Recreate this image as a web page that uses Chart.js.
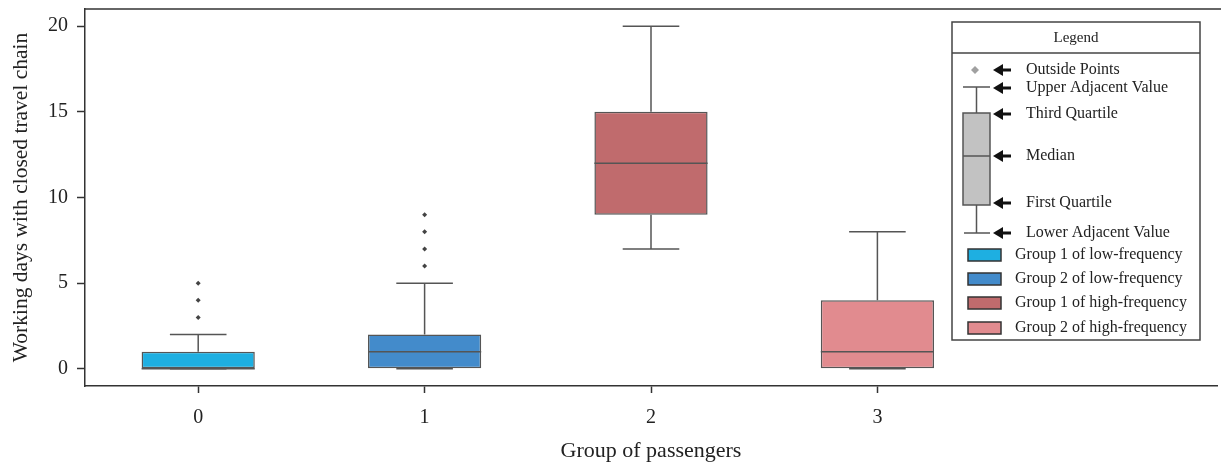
<!DOCTYPE html>
<html>
<head>
<meta charset="utf-8">
<script src="https://cdn.jsdelivr.net/npm/chart.js@4"></script>
<style>
  body { margin: 0; background: #fff; }
  #wrap { width: 1221px; height: 467px; position: relative; }
</style>
</head>
<body>
<div id="wrap"><canvas id="boxChart"></canvas></div>
<script>
// data
const groups = [0, 1, 2, 3];
const groupNames = ['Group 1 of low-frequency', 'Group 2 of low-frequency', 'Group 1 of high-frequency', 'Group 2 of high-frequency'];
const groupColors = ['#1eafe1', '#438bcb', '#c06b6d', '#e18b8f'];
const lowerWhisker = [0, 0, 7, 0];
const q1 = [0, 0, 9, 0];
const median = [0, 1, 12, 1];
const q3 = [1, 2, 15, 4];
const upperWhisker = [2, 5, 20, 8];
const outliers = [[3, 4, 5], [6, 7, 8, 9], [], []];
const yTicks = [0, 5, 10, 15, 20];
const legendItems = ['Outside Points', 'Upper Adjacent Value', 'Third Quartile', 'Median', 'First Quartile', 'Lower Adjacent Value'];

const lineColor = '#555';
const serif = '"Liberation Serif", "DejaVu Serif", serif';
const capWidth = 0.25; // in x units

const boxData = groups.map((g, i) => ({ x: g, y: [q1[i], q3[i]] }));
const outlierData = [];
outliers.forEach((arr, i) => arr.forEach(v => outlierData.push({ x: groups[i], y: v })));

// whiskers + medians drawn from the scales
const boxParts = {
    id: 'boxParts',
    beforeDatasetsDraw(chart) {
        const { ctx, scales: { x, y } } = chart;
        ctx.save();
        ctx.strokeStyle = lineColor;
        ctx.lineWidth = 1.5;
        groups.forEach((g, i) => {
            const cx = x.getPixelForValue(g);
            const l = x.getPixelForValue(g - capWidth / 2);
            const r = x.getPixelForValue(g + capWidth / 2);
            ctx.beginPath();
            ctx.moveTo(cx, y.getPixelForValue(q3[i]));
            ctx.lineTo(cx, y.getPixelForValue(upperWhisker[i]));
            ctx.moveTo(l, y.getPixelForValue(upperWhisker[i]));
            ctx.lineTo(r, y.getPixelForValue(upperWhisker[i]));
            ctx.moveTo(cx, y.getPixelForValue(q1[i]));
            ctx.lineTo(cx, y.getPixelForValue(lowerWhisker[i]));
            ctx.moveTo(l, y.getPixelForValue(lowerWhisker[i]));
            ctx.lineTo(r, y.getPixelForValue(lowerWhisker[i]));
            ctx.stroke();
        });
        ctx.restore();
    },
    afterDatasetsDraw(chart) {
        const { ctx, scales: { x, y } } = chart;
        const bars = chart.getDatasetMeta(0).data;
        ctx.save();
        ctx.strokeStyle = lineColor;
        ctx.lineWidth = 1.5;
        bars.forEach((bar, i) => {
            const my = y.getPixelForValue(median[i]);
            ctx.beginPath();
            ctx.moveTo(bar.x - bar.width / 2, my);
            ctx.lineTo(bar.x + bar.width / 2, my);
            ctx.stroke();
        });
        // top frame line
        const area = chart.chartArea;
        ctx.strokeStyle = '#333';
        ctx.beginPath();
        ctx.moveTo(area.left, area.top);
        ctx.lineTo(chart.width, area.top);
        ctx.stroke();
        ctx.restore();
    }
};

function arrow(ctx, tipX, yy) {
    ctx.beginPath();
    ctx.moveTo(tipX, yy);
    ctx.lineTo(tipX + 10, yy - 6);
    ctx.lineTo(tipX + 10, yy + 6);
    ctx.closePath();
    ctx.fill();
    ctx.fillRect(tipX + 9, yy - 1.5, 9, 3);
}

// the boxed legend on the right
const boxLegend = {
    id: 'boxLegend',
    afterDraw(chart) {
        const ctx = chart.ctx;
        const L = 952, R = 1200, T = 22, B = 340;
        ctx.save();
        ctx.fillStyle = '#fff';
        ctx.fillRect(L, T, R - L, B - T);
        ctx.strokeStyle = '#444';
        ctx.lineWidth = 1.5;
        ctx.strokeRect(L, T, R - L, B - T);
        ctx.beginPath();
        ctx.moveTo(L, 53);
        ctx.lineTo(R, 53);
        ctx.stroke();

        ctx.fillStyle = '#222';
        ctx.font = '15px ' + serif;
        ctx.textAlign = 'center';
        ctx.textBaseline = 'middle';
        ctx.fillText('Legend', (L + R) / 2, 38);

        // schematic box
        ctx.strokeStyle = lineColor;
        ctx.lineWidth = 1.5;
        ctx.fillStyle = '#c2c2c2';
        ctx.fillRect(963, 113, 27, 92);
        ctx.strokeRect(963, 113, 27, 92);
        ctx.beginPath();
        ctx.moveTo(963, 156); ctx.lineTo(990, 156);
        ctx.moveTo(976.5, 113); ctx.lineTo(976.5, 87);
        ctx.moveTo(963, 87); ctx.lineTo(990, 87);
        ctx.moveTo(976.5, 205); ctx.lineTo(976.5, 233);
        ctx.moveTo(964, 233); ctx.lineTo(990, 233);
        ctx.stroke();
        ctx.fillStyle = '#a0a0a0';
        ctx.beginPath();
        ctx.moveTo(975, 66); ctx.lineTo(979, 70); ctx.lineTo(975, 74); ctx.lineTo(971, 70);
        ctx.closePath();
        ctx.fill();

        const rowY = [70, 88, 114, 156, 203, 233];
        ctx.font = '16px ' + serif;
        ctx.textAlign = 'left';
        legendItems.forEach((t, i) => {
            ctx.fillStyle = '#111';
            arrow(ctx, 993, rowY[i]);
            ctx.fillStyle = '#222';
            ctx.fillText(t, 1026, rowY[i]);
        });

        const swY = [255, 279, 303, 328];
        groupNames.forEach((n, i) => {
            ctx.fillStyle = groupColors[i];
            ctx.fillRect(968, swY[i] - 6, 33, 12);
            ctx.strokeStyle = '#333';
            ctx.strokeRect(968, swY[i] - 6, 33, 12);
            ctx.fillStyle = '#222';
            ctx.fillText(n, 1015, swY[i]);
        });
        ctx.restore();
    }
};

new Chart(document.getElementById('boxChart'), {
    type: 'bar',
    data: {
        datasets: [{
            type: 'bar',
            label: 'boxes',
            data: boxData,
            backgroundColor: groupColors,
            borderColor: lineColor,
            borderWidth: 1.5,
            borderSkipped: false,
            barPercentage: 0.5,
            categoryPercentage: 1
        }, {
            type: 'scatter',
            label: 'outliers',
            data: outlierData,
            pointStyle: 'rectRot',
            pointRadius: 2.5,
            backgroundColor: '#444',
            borderColor: '#444',
            borderWidth: 0
        }]
    },
    options: {
        responsive: true,
        maintainAspectRatio: false,
        animation: false,
        layout: { padding: { top: 9, left: 0, right: 0, bottom: 0 } },
        plugins: { legend: { display: false }, tooltip: { enabled: false } },
        scales: {
            x: {
                type: 'linear',
                min: -0.5,
                max: 4.5,
                offset: false,
                afterBuildTicks: s => { s.ticks = groups.map(v => ({ value: v })); },
                afterFit: s => { s.height = 81; s.paddingLeft = 0; s.paddingRight = 0; },
                grid: { offset: false, drawOnChartArea: false, drawTicks: true, tickLength: 7, tickColor: '#333', tickWidth: 1.5 },
                border: { display: true, color: '#333', width: 1.5 },
                ticks: { padding: 13, color: '#222', font: { family: serif, size: 20 } },
                title: { display: true, text: 'Group of passengers', color: '#222', font: { family: serif, size: 22 }, padding: { top: 0, bottom: 3 } }
            },
            y: {
                type: 'linear',
                min: -1,
                max: 21,
                afterBuildTicks: s => { s.ticks = yTicks.map(v => ({ value: v })); },
                afterFit: s => { s.width = 85; s.paddingTop = 0; s.paddingBottom = 0; },
                grid: { drawOnChartArea: false, drawTicks: true, tickLength: 8, tickColor: '#333', tickWidth: 1.5 },
                border: { display: true, color: '#333', width: 1.5 },
                ticks: { padding: 9, color: '#222', font: { family: serif, size: 20 } },
                title: { display: true, text: 'Working days with closed travel chain', color: '#222', font: { family: serif, size: 21.5 }, padding: { top: 8, bottom: 0 } }
            }
        }
    },
    plugins: [boxParts, boxLegend]
});
</script>
</body>
</html>
